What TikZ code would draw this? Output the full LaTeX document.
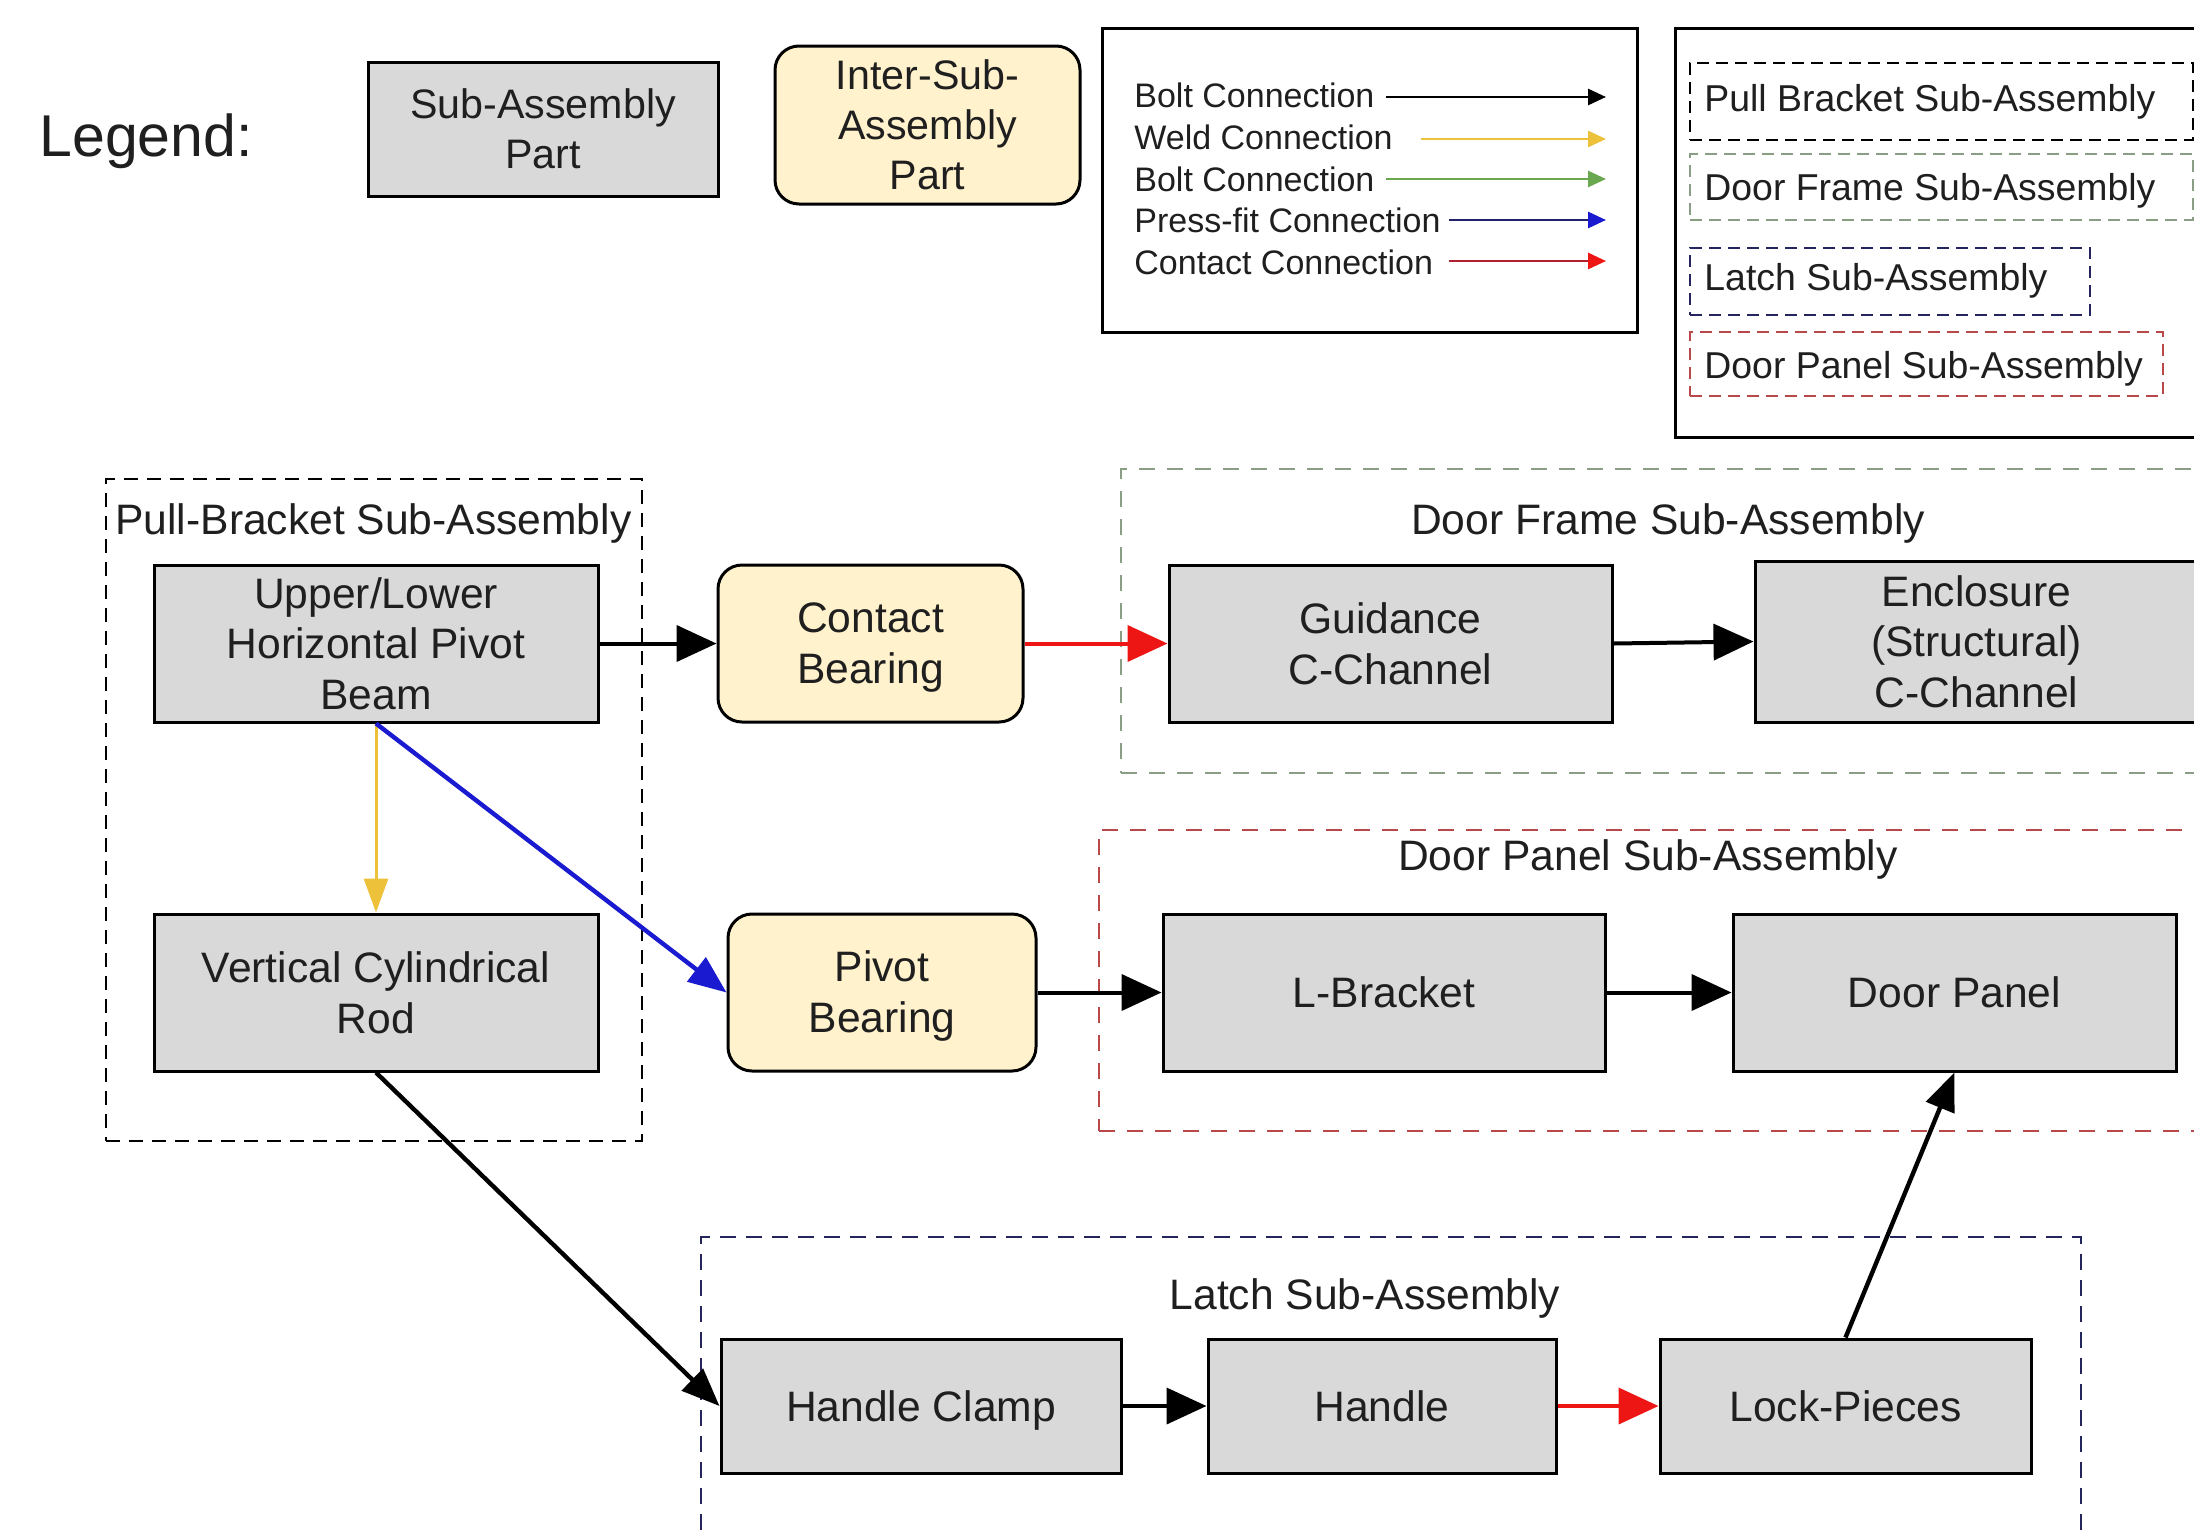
\documentclass[tikz,border=0pt]{standalone}
\usepackage{fontspec}
\setmainfont{Liberation Sans}
\usetikzlibrary{arrows.meta}
\definecolor{boxgray}{HTML}{D9D9D9}
\definecolor{boxyel}{HTML}{FFF2CC}
\definecolor{weld}{HTML}{EDC13A}
\definecolor{boltg}{HTML}{6AA84F}
\definecolor{press}{HTML}{1A1AD0}
\definecolor{pressline}{HTML}{22226A}
\definecolor{contact}{HTML}{EE1515}
\definecolor{contactline}{HTML}{B02030}
\definecolor{dfgreen}{HTML}{8A9E86}
\definecolor{dpred}{HTML}{B8484A}
\definecolor{latchblue}{HTML}{24245E}
\definecolor{txt}{HTML}{1F1F1F}
\begin{document}
\begin{tikzpicture}[x=0.5pt,y=-0.5pt,
  font=\fontsize{21.3}{25.3}\selectfont, text=txt,
  part/.style={draw=black, line width=1.5pt, fill=boxgray, inner sep=0pt, align=center,
    minimum height=78.5pt},
  inter/.style={part, fill=boxyel, rounded corners=12pt},
  grp/.style={line width=1pt, dash pattern=on 7pt off 4.5pt, inner sep=0pt},
  grptitle/.style={inner sep=0pt},
  lgbox/.style={line width=1pt, dash pattern=on 6pt off 3.5pt, inner sep=0pt},
  lgboxtext/.style={anchor=west, inner sep=0pt, font=\fontsize{18.7}{22}\selectfont},
  lgtext/.style={anchor=west, inner sep=0pt, font=\fontsize{17}{20}\selectfont},
  legarrow/.style={line width=1.4pt, -{Triangle[length=9pt,width=8pt]}},
  conn/.style={line width=2pt, -{Triangle[length=20pt,width=18pt]}},
  dconn/.style={line width=2.2pt, -{Triangle[length=19pt,width=15pt]}},
]
\useasboundingbox (0,0) rectangle (2194,1537);
\clip (0,0) rectangle (2194,1537);
\fill[white] (0,0) rectangle (2194,1537);

% ---------- Legend ----------
\node[anchor=west, inner sep=0pt, font=\fontsize{29.5}{32}\selectfont] (legend) at (39,141) {Legend:};
\node[part, minimum width=175pt, minimum height=67pt, font=\fontsize{20.6}{25}\selectfont, yshift=-1.5pt] (lsub) at (543,126) {Sub-Assembly\\Part};
\node[inter, minimum width=152.5pt, minimum height=79pt, font=\fontsize{20.6}{25}\selectfont] (linter) at (927.5,125) {Inter-Sub-\\Assembly\\Part};

\node[draw=black, line width=1.5pt, minimum width=267.5pt, minimum height=152pt, inner sep=0pt] (lconn) at (1369.5,180) {};
\node[lgtext] (lt1) at (1134,95) {Bolt Connection};
\node[lgtext] (lt2) at (1134,137) {Weld Connection};
\node[lgtext] (lt3) at (1134,179) {Bolt Connection};
\node[lgtext] (lt4) at (1134,220) {Press-fit Connection};
\node[lgtext] (lt5) at (1134,262) {Contact Connection};
\coordinate (la1) at (1386,97);  \coordinate (lb1) at (1606,97);
\coordinate (la2) at (1421,139); \coordinate (lb2) at (1606,139);
\coordinate (la3) at (1386,179); \coordinate (lb3) at (1606,179);
\coordinate (la4) at (1449,220); \coordinate (lb4) at (1606,220);
\coordinate (la5) at (1449,261); \coordinate (lb5) at (1606,261);
\draw[legarrow, black] (la1) -- (lb1);
\draw[legarrow, weld] (la2) -- (lb2);
\draw[legarrow, boltg] (la3) -- (lb3);
\draw[legarrow, pressline, -{Triangle[length=9pt,width=8pt,color=press]}] (la4) -- (lb4);
\draw[legarrow, contactline, -{Triangle[length=9pt,width=8pt,color=contact]}] (la5) -- (lb5);

\node[draw=black, line width=1.5pt, minimum width=282.5pt, minimum height=204.5pt, inner sep=0pt] (lsa) at (1957.5,232.5) {};
\node[lgbox, draw=black, minimum width=251.5pt, minimum height=38.5pt] (lpb) at (1941.5,101.5) {};
\node[lgboxtext] (lpbt) at (1704,102) {Pull Bracket Sub-Assembly};
\node[lgbox, draw=dfgreen, minimum width=251.5pt, minimum height=33pt] (ldf) at (1941.5,187) {};
\node[lgboxtext] (ldft) at (1704,191) {Door Frame Sub-Assembly};
\node[lgbox, draw=latchblue, minimum width=200pt, minimum height=33.5pt] (lla) at (1890,281.5) {};
\node[lgboxtext] (llat) at (1704,281) {Latch Sub-Assembly};
\node[lgbox, draw=dpred, minimum width=236.5pt, minimum height=32pt] (ldp) at (1926.5,364) {};
\node[lgboxtext] (ldpt) at (1704,369) {Door Panel Sub-Assembly};

% ---------- Groups ----------
\node[grp, draw=black, minimum width=268pt, minimum height=331pt] (gpb) at (374,810) {};
\node[grptitle, anchor=west] (gpbt) at (115,523) {Pull-Bracket Sub-Assembly};
\node[grp, draw=dfgreen, dash pattern=on 8pt off 6pt, minimum width=569.5pt, minimum height=152pt] (gdf) at (1690.5,621) {};
\node[grptitle] (gdft) at (1668,523) {Door Frame Sub-Assembly};
\node[grp, draw=dpred, dash pattern=on 8pt off 6pt, minimum width=580.5pt, minimum height=150.5pt] (gdp) at (1679.5,980.5) {};
\node[grptitle] (gdpt) at (1648,859) {Door Panel Sub-Assembly};
\node[grp, draw=latchblue, dash pattern=on 8pt off 5pt, minimum width=690pt, minimum height=171.5pt] (gla) at (1391,1408.5) {};
\node[grptitle] (glat) at (1365,1298) {Latch Sub-Assembly};

% ---------- Parts ----------
\node[part, minimum width=222pt] (upper) at (376,643.5) {Upper/Lower\\Horizontal Pivot\\Beam};
\node[part, minimum width=222pt] (rod) at (376,992.5) {Vertical Cylindrical\\Rod};
\node[inter, minimum width=152.5pt] (cbear) at (870.5,643.5) {\rule{0pt}{0.9em}Contact\\Bearing};
\node[inter, minimum width=154pt] (pbear) at (882,992.5) {\rule{0pt}{0.9em}Pivot\\Bearing};
\node[part, minimum width=221.5pt] (guid) at (1390.5,643.5) {Guidance\\C-Channel};
\node[part, minimum width=221.5pt, minimum height=80.5pt] (encl) at (1976.5,641.5) {Enclosure\\(Structural)\\C-Channel};
\node[part, minimum width=221pt] (lbr) at (1384,992.5) {L-Bracket};
\node[part, minimum width=221.5pt] (dpan) at (1954.5,992.5) {Door Panel};
\node[part, minimum width=200pt, minimum height=67pt] (hclamp) at (921,1406) {Handle Clam\smash{p}};
\node[part, minimum width=174pt, minimum height=67pt] (handle) at (1382,1406) {Handle};
\node[part, minimum width=185.5pt, minimum height=67pt] (lock) at (1845.5,1406) {Lock-Pieces};

% ---------- Connections ----------
\draw[conn, black] (upper.east) -- (cbear.west);
\draw[conn, contact] (cbear.east) -- (guid.west);
\draw[conn, black] (guid.east) -- (encl.west);
\draw[line width=1.5pt, weld, -{Triangle[length=17pt,width=12pt]}] (upper.south) -- (rod.north);
\draw[dconn, press] (upper.south) -- (pbear.west);
\draw[conn, black] (pbear.east) -- (lbr.west);
\draw[conn, black] (lbr.east) -- (dpan.west);
\draw[dconn, black] (rod.south) -- (hclamp.west);
\draw[conn, black] (hclamp.east) -- (handle.west);
\draw[conn, contact] (handle.east) -- (lock.west);
\draw[dconn, black] (lock.north) -- (dpan.south);
\end{tikzpicture}
\end{document}
